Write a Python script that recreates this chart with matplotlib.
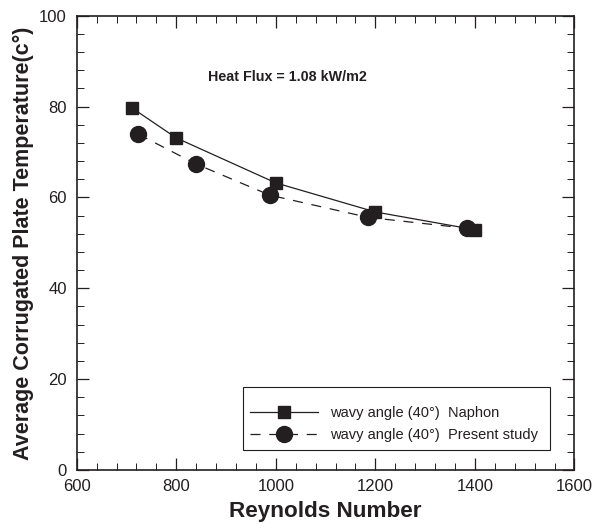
import matplotlib
matplotlib.use("Agg")
import matplotlib.pyplot as plt
from matplotlib.ticker import MultipleLocator
from matplotlib.patches import Rectangle

plt.rcParams['font.family'] = ['Liberation Sans', 'DejaVu Sans']

re_naphon = [711, 800, 1000, 1200, 1400]
t_naphon = [79.7, 73.1, 63.2, 56.8, 52.9]
re_present = [724, 839, 988, 1186, 1385]
t_present = [73.9, 67.4, 60.5, 55.6, 53.2]

label_naphon = "wavy angle (40°)  Naphon"
label_present = "wavy angle (40°)  Present study"
annotation = "Heat Flux = 1.08 kW/m2"
xlabel = "Reynolds Number"
ylabel = "Average Corrugated Plate Temperature(c°)"

ink = '#231f20'

fig = plt.figure(figsize=(5.95, 5.29), dpi=100)
ax = fig.add_axes([0.1289, 0.1115, 0.9655 - 0.1289, 0.9703 - 0.1115])

ax.plot(re_naphon, t_naphon, color=ink, lw=0.9, ls='-', marker='s',
        markersize=8.5, markerfacecolor=ink, markeredgecolor=ink,
        label=label_naphon, zorder=3)
ax.plot(re_present, t_present, color=ink, lw=0.9, ls=(0, (8, 7)), marker='o',
        markersize=11.5, markerfacecolor=ink, markeredgecolor=ink,
        label=label_present, zorder=3)

ax.set_xlim(600, 1600)
ax.set_ylim(0, 100)
ax.xaxis.set_major_locator(MultipleLocator(200))
ax.xaxis.set_minor_locator(MultipleLocator(40))
ax.yaxis.set_major_locator(MultipleLocator(20))
ax.yaxis.set_minor_locator(MultipleLocator(4))

ax.tick_params(which='both', direction='in', top=True, right=True,
               colors=ink, labelcolor=ink)
ax.tick_params(which='major', length=8.6, width=0.9, labelsize=12)
ax.tick_params(axis='x', which='major', pad=6.5)
ax.tick_params(axis='y', which='major', pad=7)
ax.tick_params(which='minor', length=5, width=0.7)
for s in ax.spines.values():
    s.set_linewidth(1.2)
    s.set_color(ink)

ax.set_xlabel(xlabel, fontsize=16.2, fontweight='bold', color=ink, labelpad=5)
ax.set_ylabel(ylabel, fontsize=15.5, fontweight='bold', color=ink, labelpad=4)

ax.text(1024, 85.7, annotation, fontsize=10.3, fontweight='bold', color=ink,
        ha='center', va='baseline')

# legend frame
ax.add_patch(Rectangle((0.334, 0.044), 0.951 - 0.334, 0.183 - 0.044,
                       transform=ax.transAxes, facecolor='white',
                       edgecolor=ink, lw=0.8, zorder=4))
leg = ax.legend(loc='center left', bbox_to_anchor=(0.348, 0.1013),
                borderaxespad=0, borderpad=0, fontsize=10.5,
                handlelength=4.65, handletextpad=0.82, labelspacing=0.55,
                frameon=False)
leg.set_zorder(5)
for t in leg.get_texts():
    t.set_color(ink)

fig.savefig('out.png', dpi=100)
